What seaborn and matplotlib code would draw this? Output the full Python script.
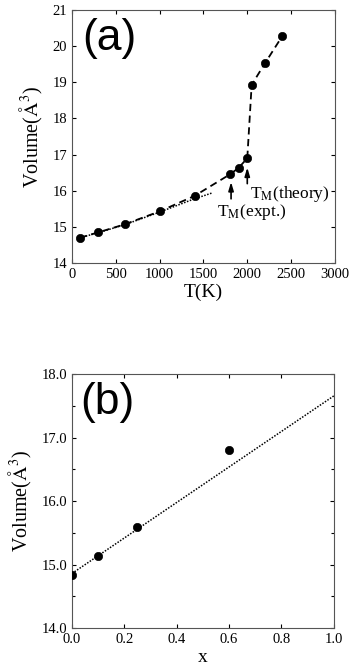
import matplotlib
matplotlib.use("Agg")
import matplotlib.pyplot as plt
import seaborn as sns
import numpy as np
import pandas as pd
from matplotlib.ticker import MultipleLocator, FormatStrFormatter

# Panel (a) data
T_pts = [90, 300, 600, 1000, 1400, 1800, 1900, 2000, 2050, 2200, 2400]
V_pts = [14.70, 14.85, 15.07, 15.43, 15.86, 16.45, 16.63, 16.90, 18.93, 19.52, 20.28]
T_dot = [90, 300, 600, 1000, 1400, 1600]
V_dot = [14.70, 14.84, 15.06, 15.41, 15.78, 15.94]

# Panel (b) data
x_pts = [0.0, 0.1, 0.25, 0.6]
Vb_pts = [14.84, 15.13, 15.59, 16.81]
x_fit = [0.0, 1.0]
Vb_fit = [14.86, 17.66]

sns.set_style("ticks")
plt.rcParams['font.family'] = ['Liberation Serif', 'DejaVu Serif']
plt.rcParams['mathtext.fontset'] = 'stix'
plt.rcParams['text.color'] = 'black'
plt.rcParams['axes.labelcolor'] = 'black'
plt.rcParams['xtick.color'] = 'black'
plt.rcParams['ytick.color'] = 'black'

fig = plt.figure(figsize=(3.52, 6.66), dpi=100)
ax1 = fig.add_axes([0.2045, 0.605, 0.747, 0.380])
ax2 = fig.add_axes([0.2045, 0.057, 0.744, 0.381])

dfa = pd.DataFrame({"T": T_pts, "V": V_pts})
dfd = pd.DataFrame({"T": T_dot, "V": V_dot})
sns.lineplot(data=dfd, x="T", y="V", ax=ax1, color="black", lw=1.1, linestyle=(0, (1, 1)))
sns.lineplot(data=dfa, x="T", y="V", ax=ax1, color="black", lw=1.3, linestyle=(0, (4, 2.5)))
sns.scatterplot(data=dfa, x="T", y="V", ax=ax1, color="black", s=36, edgecolor="black", zorder=5)

ax1.set_xlim(0, 3000)
ax1.set_ylim(14, 21)
ax1.xaxis.set_major_locator(MultipleLocator(500))
ax1.yaxis.set_major_locator(MultipleLocator(1))
ax1.set_xlabel("T(K)", fontsize=14, labelpad=2)
ax1.set_ylabel("Volume($\\mathrm{\\AA}^3$)", fontsize=14.5, labelpad=5)
ax1.text(0.04, 0.97, "(a)", transform=ax1.transAxes, fontsize=32,
         family=["Liberation Sans", "DejaVu Sans"], va="top", ha="left", color="black")
ax1.annotate("", xy=(1815, 16.32), xytext=(1815, 15.70),
             arrowprops=dict(arrowstyle="-|>,head_length=0.5,head_width=0.15", color="black", lw=1.2))
ax1.annotate("", xy=(2000, 16.72), xytext=(2000, 16.12),
             arrowprops=dict(arrowstyle="-|>,head_length=0.5,head_width=0.15", color="black", lw=1.2))
ax1.text(2030, 15.92, "T$_{\\mathrm{M}}$(theory)", fontsize=12.5, va="center", ha="left")
ax1.text(1660, 15.42, "T$_{\\mathrm{M}}$(expt.)", fontsize=12.5, va="center", ha="left")

dfb = pd.DataFrame({"x": x_pts, "V": Vb_pts})
dff = pd.DataFrame({"x": x_fit, "V": Vb_fit})
sns.lineplot(data=dff, x="x", y="V", ax=ax2, color="black", lw=1.1, linestyle=(0, (1, 1)))
sns.scatterplot(data=dfb, x="x", y="V", ax=ax2, color="black", s=36, edgecolor="black", zorder=5)
ax2.set_xlim(0, 1)
ax2.set_ylim(14, 18)
ax2.xaxis.set_major_locator(MultipleLocator(0.2))
ax2.yaxis.set_major_locator(MultipleLocator(1))
ax2.yaxis.set_minor_locator(MultipleLocator(0.5))
ax2.xaxis.set_major_formatter(FormatStrFormatter("%.1f"))
ax2.yaxis.set_major_formatter(FormatStrFormatter("%.1f"))
ax2.set_xlabel("x", fontsize=14, labelpad=2)
ax2.set_ylabel("Volume($\\mathrm{\\AA}^3$)", fontsize=14.5, labelpad=5)
ax2.text(0.03, 0.97, "(b)", transform=ax2.transAxes, fontsize=32,
         family=["Liberation Sans", "DejaVu Sans"], va="top", ha="left", color="black")

for ax in (ax1, ax2):
    ax.tick_params(which="both", direction="in", top=True, right=True, labelsize=10.5, width=0.8)
    ax.tick_params(which="major", length=3)
    ax.tick_params(which="minor", length=2.5)
    for s in ax.spines.values():
        s.set_linewidth(0.8)
        s.set_color("#555555")

fig.savefig("out.png", dpi=100, facecolor="white")
